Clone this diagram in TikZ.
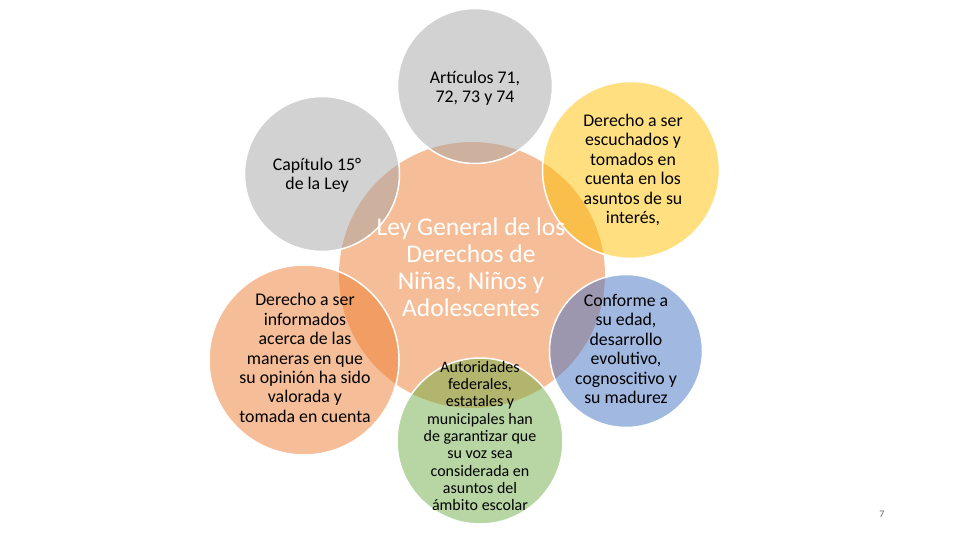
\documentclass[tikz,border=0pt]{standalone}
\usepackage{fontspec}
\setmainfont{Carlito}
\definecolor{cOrange}{HTML}{ED7D31}
\definecolor{cGray}{HTML}{A5A5A5}
\definecolor{cGold}{HTML}{FFC000}
\definecolor{cBlue}{HTML}{4472C4}
\definecolor{cGreen}{HTML}{70AD47}
\begin{document}
\begin{tikzpicture}[x=1pt,y=-1pt,
  bub/.style={circle, draw=white, line width=1.5pt, inner sep=0pt, fill opacity=0.5, draw opacity=1},
  lbl/.style={align=center, font=\fontsize{17.8}{19.4}\selectfont, text=black, inner sep=0pt},
  slbl/.style={align=center, font=\fontsize{16}{17.3}\selectfont, text=black, inner sep=0pt},
  clbl/.style={align=center, font=\fontsize{25.5}{27}\selectfont, text=white, inner sep=0pt}
]
\useasboundingbox (0,0) rectangle (960,540);
% central
\node[circle, inner sep=0pt, fill=cOrange, fill opacity=0.5, minimum size=266pt] (ctr) at (472,275) {};
% satellites
\node[bub, fill=cGray, minimum size=155pt] (top) at (475,86) {};
\node[bub, fill=cGray, minimum size=155pt] (lgray) at (322,174) {};
\node[bub, fill=cOrange, minimum size=190pt] (lorange) at (304,360) {};
\node[bub, fill=cGold, minimum size=177pt] (gold) at (631,170) {};
\node[bub, fill=cBlue, minimum size=153pt] (blue) at (626,351) {};
\node[bub, fill=cGreen, minimum size=166pt] (green) at (480,441) {};
% texts
\node[lbl] (ttop) at (top) [yshift=-2pt] {Artículos 71,\\72, 73 y 74};
\node[lbl] (tlgray) at (317,175) {Capítulo 15°\\de la Ley};
\node[lbl] (tlorange) at (305,358) {Derecho a ser\\informados\\acerca de las\\maneras en que\\su opinión ha sido\\valorada y\\tomada en cuenta};
\node[lbl] (tgold) at (633,170) {Derecho a ser\\escuchados y\\tomados en\\cuenta en los\\asuntos de su\\interés,};
\node[lbl] (tblue) at (626,349) {Conforme a\\su edad,\\desarrollo\\evolutivo,\\cognoscitivo y\\su madurez};
\node[slbl] (tgreen) at (480,436) {Autoridades\\federales,\\estatales y\\municipales han\\de garantizar que\\su voz sea\\considerada en\\asuntos del\\ámbito escolar};
\node[clbl] (tctr) at (471,267) {Ley General de los\\Derechos de\\Niñas, Niños y\\Adolescentes};
\node[font=\fontsize{10}{12}\selectfont, text=black!60, inner sep=0pt] (pnum) at (882,514) {7};
\end{tikzpicture}
\end{document}
